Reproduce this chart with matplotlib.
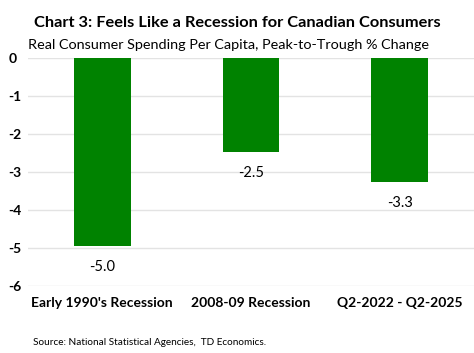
import matplotlib

matplotlib.use("Agg")

import matplotlib.pyplot as plt
import numpy as np

categories = ["Early 1990's Recession", "2008-09 Recession", "Q2-2022 - Q2-2025"]
values = [-4.96, -2.47, -3.26]
y_ticks = [0, -1, -2, -3, -4, -5, -6]

plt.rcParams["font.family"] = ["Lato", "DejaVu Sans"]

fig = plt.figure(figsize=(4.74, 3.53), dpi=100)
ax = fig.add_axes([0.059, 0.19, 0.941, 0.646])

x = np.arange(len(categories))
ax.bar(x, values, width=0.38, color="#008200", zorder=2)
for xi, v in zip(x, values):
    ax.annotate(f"{v:.1f}", (xi, v), xytext=(0, -10), textcoords="offset points",
                ha="center", va="top", fontsize=10.5)

ax.set_xlim(-0.5, 2.5)
ax.set_ylim(-6, 0)
ax.set_yticks(y_ticks)
ax.set_yticklabels([str(t) for t in y_ticks], fontweight="bold", fontsize=10)
ax.set_xticks(x)
ax.set_xticklabels(categories, fontweight="bold", fontsize=10)
ax.tick_params(axis="both", length=0)
ax.tick_params(axis="y", pad=14)
ax.tick_params(axis="x", pad=8)
for lbl in ax.get_yticklabels():
    lbl.set_horizontalalignment("left")
ax.grid(axis="y", color="#e3e3e3", linewidth=1, zorder=0)
for s in ax.spines.values():
    s.set_visible(False)

fig.text(0.5, 0.935, "Chart 3: Feels Like a Recession for Canadian Consumers",
         ha="center", va="center", fontsize=11.8, fontweight="bold")
fig.text(0.059, 0.872, "Real Consumer Spending Per Capita, Peak-to-Trough % Change",
         ha="left", va="center", fontsize=10.4)
fig.text(0.07, 0.03, "Source: National Statistical Agencies,  TD Economics.",
         ha="left", va="center", fontsize=7.2)

fig.savefig("out.png", dpi=100)
